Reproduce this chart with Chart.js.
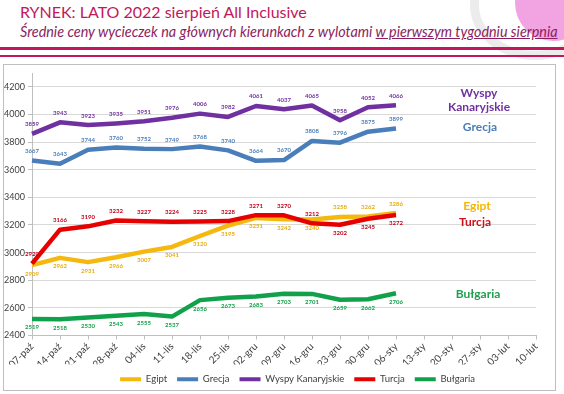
<!DOCTYPE html>
<html><head><meta charset="utf-8">
<script src="https://cdn.jsdelivr.net/npm/chart.js@4.4.0/dist/chart.umd.min.js"></script>
<style>
html,body{margin:0;padding:0;background:#fff;}
body{width:564px;height:394px;position:relative;overflow:hidden;font-family:Lato,sans-serif;}
.abs{position:absolute;white-space:nowrap;}
#title{left:20px;top:4px;font-size:17px;color:#C2185B;line-height:1;}
#sub{left:20px;top:25px;font-size:12.5px;font-style:italic;color:#8C1D5E;line-height:1;}
.rule{position:absolute;left:0;width:564px;background:#C2185B;}
#box{position:absolute;left:3px;top:64px;width:551px;height:325px;border:1px solid #BFBFBF;}
#cv{position:absolute;left:3px;top:64px;}
.lab{position:absolute;font-weight:bold;font-size:12px;text-align:center;line-height:1;transform:translate(-50%,-50%);white-space:nowrap;}
#globe{position:absolute;left:515px;top:-35px;width:76px;height:76px;border-radius:50%;background:#F2A3E2;}
#ring{position:absolute;left:470px;top:-50px;width:130px;height:110px;border-radius:50%;border:9px solid #ECECEC;box-sizing:border-box;}
</style></head>
<body>
<div id="ring"></div>
<div id="globe"></div>
<div id="title" class="abs" data-w="287">RYNEK: LATO 2022 sierpień All Inclusive</div>
<div id="sub" class="abs" data-w="538">Średnie ceny wycieczek na głównych kierunkach z wylotami <u>w pierwszym tygodniu sierpnia</u></div>
<div class="rule" style="top:47px;height:3px"></div>
<div class="rule" style="top:55px;height:2px"></div>
<div id="box"></div>
<canvas id="cv" width="552" height="330"></canvas>
<div class="lab" style="left:479px;top:93px;color:#7030A0">Wyspy</div>
<div class="lab" style="left:479px;top:107px;color:#7030A0">Kanaryjskie</div>
<div class="lab" style="left:480px;top:127px;color:#4A7EBB">Grecja</div>
<div class="lab" style="left:477px;top:206px;color:#F2B705">Egipt</div>
<div class="lab" style="left:475px;top:222px;color:#D0101A">Turcja</div>
<div class="lab" style="left:478px;top:294px;color:#1FA04E">Bułgaria</div>
<script>
const categories = ['07-paź','14-paź','21-paź','28-paź','04-lis','11-lis','18-lis','25-lis','02-gru','09-gru','16-gru','23-gru','30-gru','06-sty','13-sty','20-sty','27-sty','03-lut','10-lut'];
const egipt    = [2909,2962,2931,2966,3007,3041,3120,3195,3251,3242,3240,3258,3262,3286];
const grecja   = [3667,3643,3744,3760,3752,3749,3768,3740,3664,3670,3808,3796,3875,3899];
const wyspy    = [3859,3943,3923,3935,3951,3976,4006,3982,4061,4037,4065,3958,4052,4066];
const turcja   = [2920,3166,3190,3232,3227,3224,3225,3228,3271,3270,3212,3202,3245,3272];
const bulgaria = [2519,2518,2530,2543,2555,2537,2656,2673,2683,2703,2701,2659,2662,2706];
const yTicks   = [2400,2600,2800,3000,3200,3400,3600,3800,4000,4200];

// fit header texts to the widths seen in the reference
document.querySelectorAll('[data-w]').forEach(el=>{
  el.style.display='inline-block';
  const w = el.getBoundingClientRect().width;
  const fs = parseFloat(getComputedStyle(el).fontSize);
  el.style.fontSize = (fs * (+el.dataset.w) / w) + 'px';
});

const below = n => Array(14).fill(n);
const mk = (label, data, color, labColor, order, belowArr) => ({
  label, data, borderColor: color, backgroundColor: color, borderWidth: 4.5,
  pointRadius: 0, pointHoverRadius: 0, tension: 0, fill: false, order,
  borderJoinStyle: 'round', labColor, belowArr
});

const pointLabels = {
  id: 'pointLabels',
  afterDatasetsDraw(chart) {
    const ctx = chart.ctx;
    ctx.save();
    ctx.font = 'bold 6px Lato';
    ctx.textAlign = 'center';
    ctx.textBaseline = 'middle';
    chart.data.datasets.forEach((ds, di) => {
      const meta = chart.getDatasetMeta(di);
      ctx.fillStyle = ds.labColor;
      meta.data.forEach((pt, i) => {
        const v = ds.data[i];
        if (v == null) return;
        const b = ds.belowArr[i];
        ctx.fillText(String(v), pt.x, pt.y + (b ? 8.5 : -9.5));
      });
    });
    ctx.restore();
  }
};

const legendShift = {
  id: 'legendShift',
  afterLayout(chart) {
    if (chart.legend) { chart.legend.left += 28; chart.legend.right += 28; }
  }
};

new Chart(document.getElementById('cv'), {
  type: 'line',
  data: {
    labels: categories,
    datasets: [
      mk('Egipt', egipt, '#F5B80F', '#E6AE10', 5, [1,1,1,1,1,1,1,1,1,1,1,0,0,0]),
      mk('Grecja', grecja, '#4A7EBB', '#4A7EBB', 4, below(0)),
      mk('Wyspy Kanaryjskie', wyspy, '#7030A0', '#7030A0', 3, below(0)),
      mk('Turcja', turcja, '#E60000', '#C00018', 2, [0,0,0,0,0,0,0,0,0,0,0,1,1,1]),
      mk('Bułgaria', bulgaria, '#12A14B', '#12A14B', 1, below(1))
    ]
  },
  options: {
    responsive: false,
    animation: false,
    devicePixelRatio: 1,
    layout: { padding: { top: 9, right: 19, left: 0, bottom: 0 } },
    plugins: {
      tooltip: { enabled: false },
      legend: {
        position: 'bottom',
        labels: {
          font: { family: 'Lato', size: 9.5 },
          color: '#404040',
          boxWidth: 21, boxHeight: 4, padding: 10,
          generateLabels(chart) {
            const items = Chart.defaults.plugins.legend.labels.generateLabels(chart);
            items.forEach(it => { it.lineWidth = 0; it.fillStyle = it.strokeStyle; });
            return items.sort((a, b) => a.datasetIndex - b.datasetIndex);
          }
        }
      }
    },
    scales: {
      x: {
        offset: false,
        grid: { drawOnChartArea: false, drawTicks: true, tickLength: 4, color: '#BFBFBF' },
        border: { color: '#BFBFBF' },
        ticks: { autoSkip: false, minRotation: 45, maxRotation: 45, padding: 1,
                 font: { family: 'Lato', size: 10 }, color: '#404040' },
        afterFit(s) { s.height = 29; }
      },
      y: {
        min: 2400, max: 4300,
        afterBuildTicks(s) { s.ticks = yTicks.map(v => ({ value: v })); },
        grid: { color: '#D9D9D9', tickLength: 4, tickColor: '#BFBFBF' },
        border: { color: '#BFBFBF' },
        ticks: { font: { family: 'Lato', size: 9 }, color: '#404040', padding: 3,
                 callback: v => String(v) },
        afterFit(s) { s.width = 29; }
      }
    }
  },
  plugins: [pointLabels, legendShift]
});
</script>
</body></html>
